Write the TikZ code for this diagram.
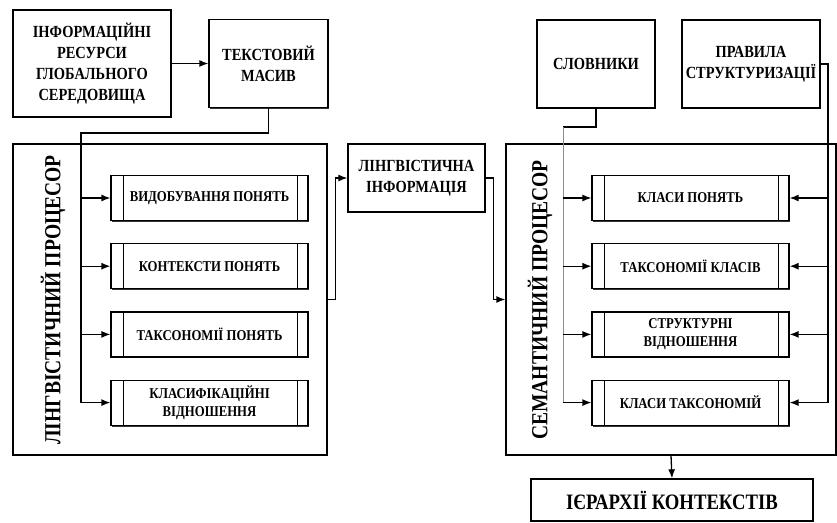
\documentclass[tikz,border=0pt]{standalone}
\usepackage{fontspec}
\setmainfont{Liberation Serif}[FakeStretch=0.85]
\usepackage{tikz}
\usetikzlibrary{
  arrows.meta,
  positioning,
  shadows
}
\tikzset{
  shadowed/.style={drop shadow={shadow xshift=1.4pt,shadow yshift=-1.4pt,opacity=1,fill=black!80}},
  topbox/.style={draw,line width=1.3pt,fill=white,shadowed,align=center,inner sep=2pt,font=\bfseries\fontsize{17}{21}\selectfont},
  procbox/.style={draw,line width=1.3pt,fill=white,shadowed},
  stagebox/.style={draw,line width=1.2pt,fill=white,shadowed,minimum width=197pt,minimum height=45pt,inner sep=1pt,align=center,font=\bfseries\fontsize{15}{18}\selectfont,
    path picture={\draw[line width=0.9pt] ([xshift=12pt]path picture bounding box.north west) -- ([xshift=12pt]path picture bounding box.south west)
      ([xshift=-11pt]path picture bounding box.north east) -- ([xshift=-11pt]path picture bounding box.south east);}},
  proclabel/.style={rotate=90,font=\bfseries\fontsize{23}{26}\selectfont},
  flow/.style={line width=1.3pt},
  flowarrow/.style={flow,-{Latex[length=9pt,width=7pt]}},
  feedline/.style={draw=black!45,line width=0.7pt}
}

\begin{document}
\begin{tikzpicture}[x=1pt,y=-1pt,node distance=22pt]
\useasboundingbox (0,0) rectangle (837,522);
\node[topbox,minimum width=158pt,minimum height=107pt] (res) at (92,63.5) {ІНФОРМАЦІЙНІ\\РЕСУРСИ\\ГЛОБАЛЬНОГО\\СЕРЕДОВИЩА};
\node[topbox,minimum width=119pt,minimum height=88pt] (mass) at (268.5,63.5) {ТЕКСТОВИЙ\\МАСИВ};
\node[topbox,minimum width=118pt,minimum height=88pt] (dict) at (596,64) {СЛОВНИКИ};
\node[topbox,minimum width=138pt,minimum height=88pt] (rules) at (751,64) {ПРАВИЛА\\СТРУКТУРИЗАЦІЇ};
\node[procbox,minimum width=314pt,minimum height=311pt] (lp) at (170,299.5) {};
\node[proclabel] (lplabel) at (53,300) {ЛІНГВІСТИЧНИЙ ПРОЦЕСОР};
\node[stagebox] (l1) at (209.5,198) {ВИДОБУВАННЯ ПОНЯТЬ};
\node[stagebox,below=of l1] (l2) {КОНТЕКСТИ ПОНЯТЬ};
\node[stagebox,below=of l2] (l3) {ТАКСОНОМІЇ ПОНЯТЬ};
\node[stagebox,below=of l3] (l4) {КЛАСИФІКАЦІЙНІ\\ВІДНОШЕННЯ};
\node[topbox,minimum width=137pt,minimum height=68pt] (li) at (416.5,178) {ЛІНГВІСТИЧНА\\ІНФОРМАЦІЯ};
\node[procbox,minimum width=330pt,minimum height=311pt] (sp) at (671,299.5) {};
\node[proclabel] (splabel) at (540,300) {СЕМАНТИЧНИЙ ПРОЦЕСОР};
\node[stagebox] (s1) at (690.5,198) {КЛАСИ ПОНЯТЬ};
\node[stagebox,below=of s1] (s2) {ТАКСОНОМІЇ КЛАСІВ};
\node[stagebox,below=of s2] (s3) {СТРУКТУРНІ\\ВІДНОШЕННЯ};
\node[stagebox,below=of s3] (s4) {КЛАСИ ТАКСОНОМІЙ};
\node[topbox,minimum width=282pt,minimum height=42pt,font=\bfseries\fontsize{22}{24}\selectfont] (hier) at (672,500) {ІЄРАРХІЇ КОНТЕКСТІВ};
\coordinate (lbus) at (81,133);
\coordinate (sbus) at (563,127);
\coordinate (rbus) at (828,64);
\draw[flowarrow] (res) -- (mass);
\draw[flow] (mass.south) |- (lbus) -- (lbus |- l4.west);
\draw[flowarrow] (lbus |- l1.west) -- (l1.west);
\draw[flowarrow] (lbus |- l2.west) -- (l2.west);
\draw[flowarrow] (lbus |- l3.west) -- (l3.west);
\draw[flowarrow] (lbus |- l4.west) -- (l4.west);
\draw[flowarrow] (lp.east) -- ++(8,0) |- (li.west);
\draw[flowarrow] (li.east) -- ++(8,0) |- (sp.west);
\draw[flow] (dict.south) |- (sbus);
\draw[feedline] (sbus) -- (sbus |- s4.west);
\draw[flowarrow] (sbus |- s1.west) -- (s1.west);
\draw[flowarrow] (sbus |- s2.west) -- (s2.west);
\draw[flowarrow] (sbus |- s3.west) -- (s3.west);
\draw[flowarrow] (sbus |- s4.west) -- (s4.west);
\draw[flow] (rules.east) -- (rbus) -- (rbus |- s4.east);
\draw[flowarrow] (rbus |- s1.east) -- (s1.east);
\draw[flowarrow] (rbus |- s2.east) -- (s2.east);
\draw[flowarrow] (rbus |- s3.east) -- (s3.east);
\draw[flowarrow] (rbus |- s4.east) -- (s4.east);
\draw[flowarrow] (sp.south) -- (hier.north);
\end{tikzpicture}
\end{document}
